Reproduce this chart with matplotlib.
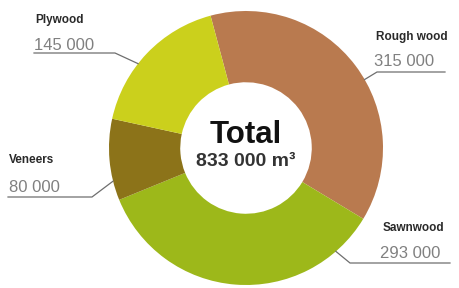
import numpy as np
import matplotlib.pyplot as plt

labels = ['Rough wood', 'Sawnwood', 'Veneers', 'Plywood']
values = [315000, 293000, 80000, 145000]
value_text = ['315 000', '293 000', '80 000', '145 000']
total_text = '833 000 m³'
colors = ['#B97A4F', '#9DB81A', '#8C7319', '#CBD01C']

plt.rcParams['font.family'] = ['Liberation Sans', 'DejaVu Sans']

fig = plt.figure(figsize=(4.6, 2.88), dpi=100)
ax = fig.add_axes([0, 0, 1, 1])

# work in pixel coords (y up)
cx, cy, R = 246, 140, 137
ax.pie(values, colors=colors, startangle=105, counterclock=False,
       center=(cx, cy), radius=R,
       wedgeprops=dict(width=R * 0.52, edgecolor='none'))
ax.set_xlim(0, 460)
ax.set_ylim(0, 288)
ax.set_aspect('equal')
ax.axis('off')

ax.text(cx, 288 - 135, 'Total', ha='center', va='center',
        fontsize=22.5, fontweight='bold', color='#111111')
ax.text(cx, 288 - 162, total_text, ha='center', va='center',
        fontsize=14, fontweight='bold', color='#333333')

# label layout: name pos, value pos, underline x range, leader angle
layout = {
    'Rough wood': dict(name=(376, 37), val=(374, 62), ux=(377, 445), uy=72, ang=30),
    'Sawnwood': dict(name=(383, 228), val=(380, 254), ux=(350, 450), uy=263, ang=-49),
    'Veneers': dict(name=(9, 160), val=(9, 187), ux=(8, 92), uy=197, ang=194),
    'Plywood': dict(name=(35, 20), val=(34, 45), ux=(34, 115), uy=53, ang=142),
}

for lab, vt in zip(labels, value_text):
    L = layout[lab]
    ax.text(L['name'][0], 288 - L['name'][1], lab, ha='left', va='center',
            fontsize=8.5, fontweight='bold', color='#2a2a2a')
    ax.text(L['val'][0], 288 - L['val'][1], vt, ha='left', va='center',
            fontsize=12, color='#808080')
    a = np.deg2rad(L['ang'])
    ex, ey = cx + R * np.cos(a), cy + R * np.sin(a)
    x0, x1 = L['ux']
    uy = 288 - L['uy']
    if ex > cx:
        ax.plot([x1, x0, ex], [uy, uy, ey], color='#6e6e6e', lw=0.9)
    else:
        ax.plot([x0, x1, ex], [uy, uy, ey], color='#6e6e6e', lw=0.9)

fig.savefig('out.png', dpi=100)
